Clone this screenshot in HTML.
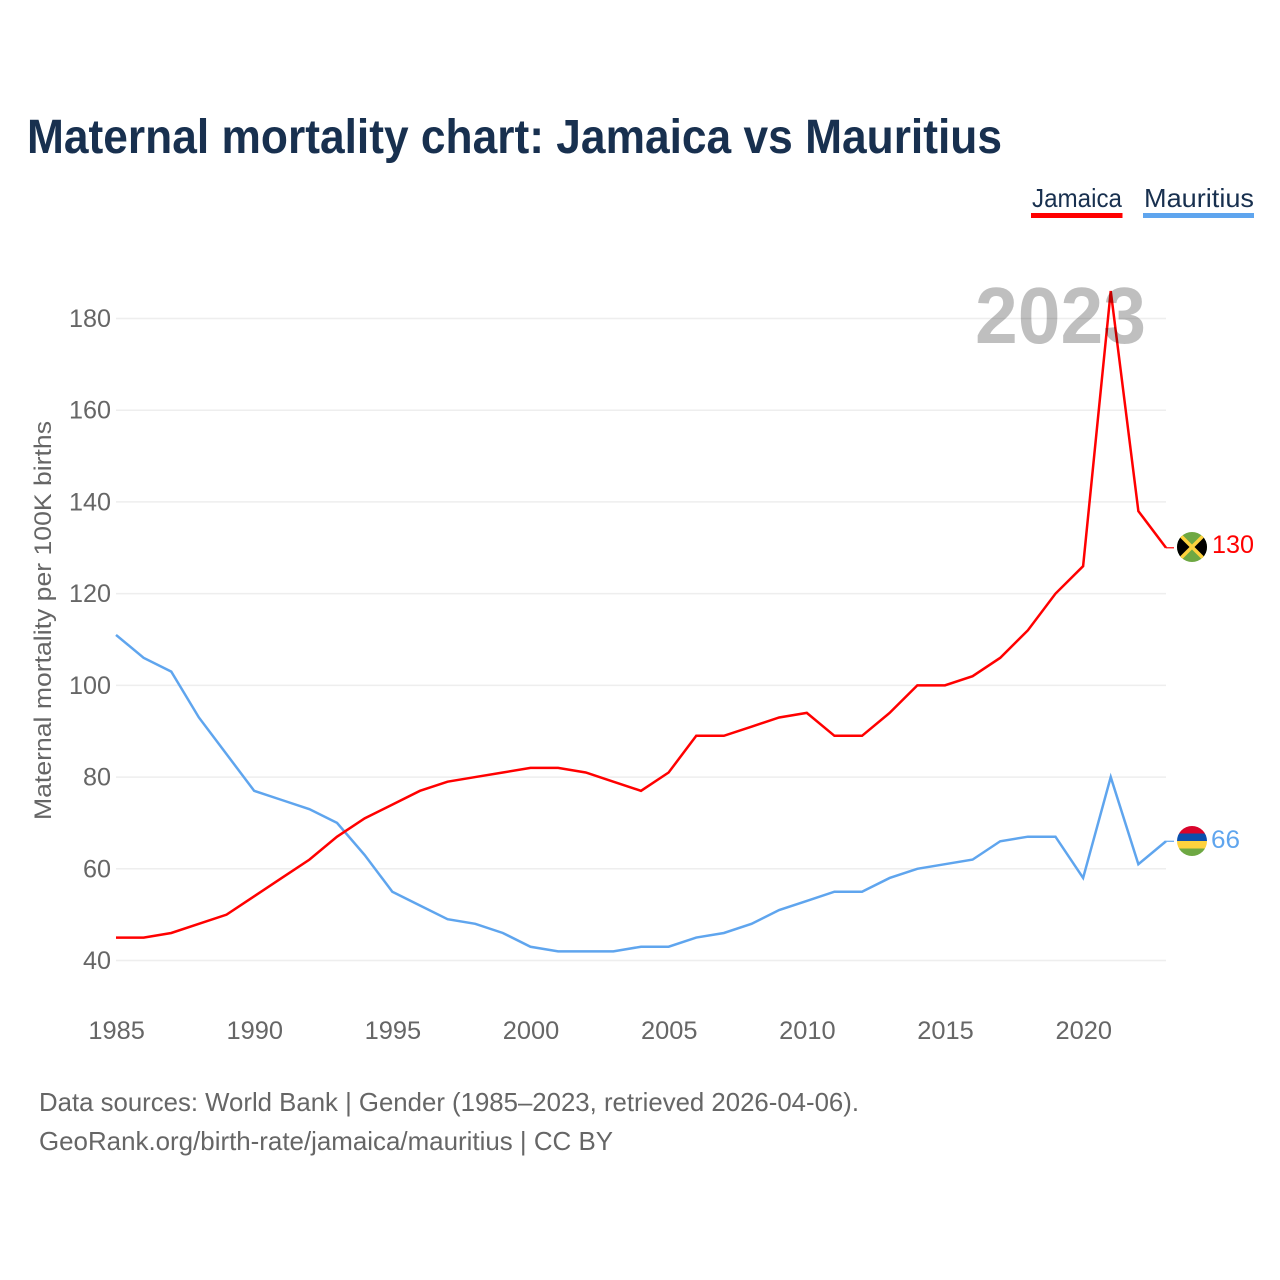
<!DOCTYPE html>
<html lang="en">
<head>
<meta charset="utf-8">
<title>Maternal mortality chart: Jamaica vs Mauritius</title>
<style>
html,body{margin:0;padding:0;background:#fff;}
svg{display:block;font-family:"Liberation Sans",sans-serif;}
</style>
</head>
<body>
<svg id="chart" xmlns="http://www.w3.org/2000/svg" width="1280" height="1280" viewBox="0 0 1280 1280">
  <defs>
    <clipPath id="flag-clip-jm"><circle cx="1192" cy="547" r="15"></circle></clipPath>
    <clipPath id="flag-clip-mu"><circle cx="1192" cy="841" r="15"></circle></clipPath>
  </defs>
  <rect width="1280" height="1280" fill="#fff"></rect>
  <text x="27" y="153" font-size="48" font-weight="700" fill="#18304f" textLength="975" lengthAdjust="spacingAndGlyphs">Maternal mortality chart: Jamaica vs Mauritius</text>

  <g>
    <g>
      <text x="1032" y="207" font-size="26" fill="#18304f" textLength="90" lengthAdjust="spacingAndGlyphs">Jamaica</text>
      <rect x="1031" y="213" width="91.500" height="5" fill="#ff0000"></rect>
    </g>
    <g>
      <text x="1144" y="207" font-size="26" fill="#18304f" textLength="110" lengthAdjust="spacingAndGlyphs">Mauritius</text>
      <rect x="1143" y="213" width="111" height="5" fill="#5fa5ee"></rect>
    </g>
  </g>

  <g id="grid"></g>
  <g id="y-ticks"></g>
  <g id="x-ticks"></g>
  <text transform="translate(51,620.500) rotate(-90)" text-anchor="middle" font-size="24.500" fill="#666" textLength="399" lengthAdjust="spacingAndGlyphs">Maternal mortality per 100K births</text>

  <g id="series"></g>

  <text x="975" y="343" font-size="80" font-weight="700" fill="#000" fill-opacity="0.25" textLength="171" lengthAdjust="spacingAndGlyphs">2023</text>

  <g id="end-markers">
    <g clip-path="url(#flag-clip-jm)">
      <rect x="1177" y="532" width="30" height="30" fill="#6ea843"></rect>
      <polygon points="1177,532 1192,547 1177,562" fill="#000"></polygon>
      <polygon points="1207,532 1192,547 1207,562" fill="#000"></polygon>
      <line x1="1177" y1="532" x2="1207" y2="562" stroke="#fdd23e" stroke-width="3.500"></line>
      <line x1="1207" y1="532" x2="1177" y2="562" stroke="#fdd23e" stroke-width="3.500"></line>
    </g>
    <g clip-path="url(#flag-clip-mu)">
      <rect x="1177" y="826" width="30" height="7.500" fill="#d9042b"></rect>
      <rect x="1177" y="833.500" width="30" height="7.500" fill="#0b4fae"></rect>
      <rect x="1177" y="841" width="30" height="7.500" fill="#fdd23e"></rect>
      <rect x="1177" y="848.500" width="30" height="7.500" fill="#6ea843"></rect>
    </g>
    <text x="1212" y="553" font-size="25" fill="#ff0000" textLength="42" lengthAdjust="spacingAndGlyphs">130</text>
    <text x="1211" y="848" font-size="25" fill="#5fa5ee" textLength="29" lengthAdjust="spacingAndGlyphs">66</text>
  </g>

  <g>
    <text x="39" y="1111" font-size="26" fill="#666" textLength="820" lengthAdjust="spacingAndGlyphs">Data sources: World Bank | Gender (1985–2023, retrieved 2026-04-06).</text>
    <text x="39" y="1150" font-size="26" fill="#666" textLength="574" lengthAdjust="spacingAndGlyphs">GeoRank.org/birth-rate/jamaica/mauritius | CC BY</text>
  </g>
</svg>
<script>
const years = [1985,1986,1987,1988,1989,1990,1991,1992,1993,1994,1995,1996,1997,1998,1999,2000,2001,2002,2003,2004,2005,2006,2007,2008,2009,2010,2011,2012,2013,2014,2015,2016,2017,2018,2019,2020,2021,2022,2023];
const jamaica = [45,45,46,48,50,54,58,62,67,71,74,77,79,80,81,82,82,81,79,77,81,89,89,91,93,94,89,89,94,100,100,102,106,112,120,126,186,138,130];
const mauritius = [111,106,103,93,85,77,75,73,70,63,55,52,49,48,46,43,42,42,42,43,43,45,46,48,51,53,55,55,58,60,61,62,66,67,67,58,80,61,66];
const yTickValues = [40,60,80,100,120,140,160,180];
const xTickValues = [1985,1990,1995,2000,2005,2010,2015,2020];

const NS = 'http://www.w3.org/2000/svg';
function xScale(year) { return 116 + (year - 1985) * (1166 - 116) / (2023 - 1985); }
function yScale(value) { return 960.5 - (value - 40) * (960.5 - 318.5) / (180 - 40); }

const grid = document.getElementById('grid');
const yAxis = document.getElementById('y-ticks');
const xAxis = document.getElementById('x-ticks');
const seriesGroup = document.getElementById('series');

yTickValues.forEach(function (v) {
  const line = document.createElementNS(NS, 'line');
  line.setAttribute('x1', 116);
  line.setAttribute('x2', 1166);
  line.setAttribute('y1', yScale(v));
  line.setAttribute('y2', yScale(v));
  line.setAttribute('stroke', '#eeeeee');
  line.setAttribute('stroke-width', 1.5);
  
  
  grid.appendChild(line);

  const label = document.createElementNS(NS, 'text');
  label.textContent = String(v);
  label.setAttribute('x', 111);
  label.setAttribute('y', yScale(v) + 8.5);
  label.setAttribute('text-anchor', 'end');
  label.setAttribute('font-size', 25);
  label.setAttribute('fill', '#666');
  label.setAttribute('textLength', String(v).length * 14);
  label.setAttribute('lengthAdjust', 'spacingAndGlyphs');
  
  
  yAxis.appendChild(label);
});

xTickValues.forEach(function (year) {
  const label = document.createElementNS(NS, 'text');
  label.textContent = String(year);
  label.setAttribute('x', xScale(year) + 0.6);
  label.setAttribute('y', 1039);
  label.setAttribute('text-anchor', 'middle');
  label.setAttribute('font-size', 25);
  label.setAttribute('fill', '#666');
  label.setAttribute('textLength', 56.5);
  label.setAttribute('lengthAdjust', 'spacingAndGlyphs');
  
  
  xAxis.appendChild(label);
});

function drawSeries(values, color, name) {
  const pts = values.map(function (v, i) { return xScale(years[i]).toFixed(2) + ',' + yScale(v).toFixed(2); });
  const path = document.createElementNS(NS, 'polyline');
  path.setAttribute('points', pts.join(' '));
  path.setAttribute('fill', 'none');
  path.setAttribute('stroke', color);
  path.setAttribute('stroke-width', 2.5);
  path.setAttribute('stroke-linejoin', 'miter');
  
  
  seriesGroup.appendChild(path);

  const lastY = yScale(values[values.length - 1]);
  const stub = document.createElementNS(NS, 'line');
  stub.setAttribute('x1', xScale(years[years.length - 1]));
  stub.setAttribute('x2', 1174);
  stub.setAttribute('y1', lastY);
  stub.setAttribute('y2', lastY);
  stub.setAttribute('stroke', color);
  stub.setAttribute('stroke-width', 1.2);
  
  
  seriesGroup.appendChild(stub);
}
drawSeries(mauritius, '#5fa5ee', 'line-mauritius');
drawSeries(jamaica, '#ff0000', 'line-jamaica');
</script>
</body>
</html>
